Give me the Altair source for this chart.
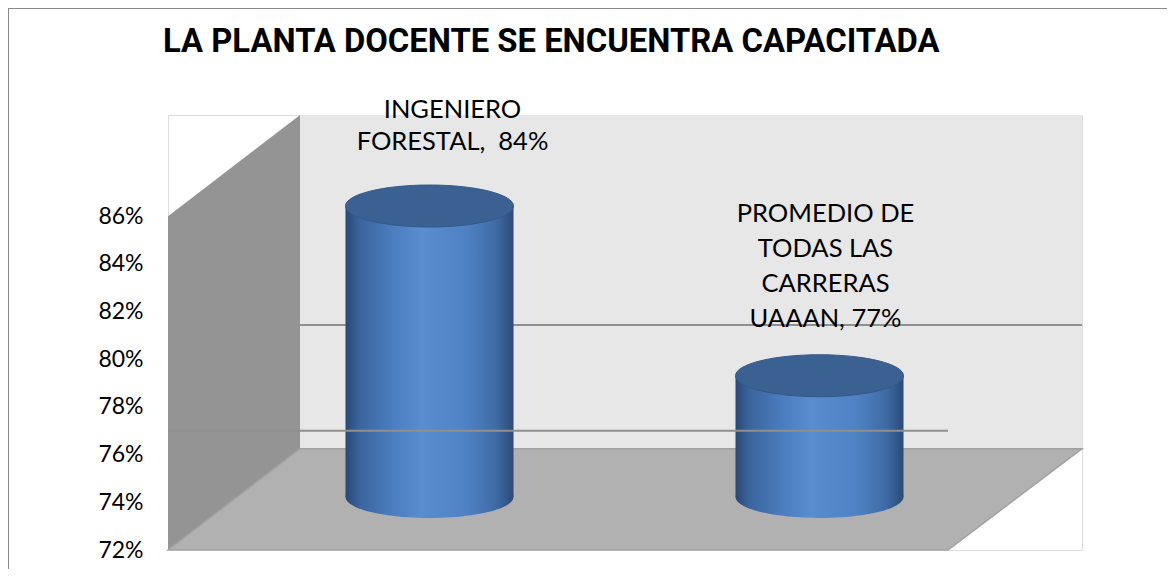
import altair as alt
import pandas as pd

# ---- data ----
categories = ["INGENIERO FORESTAL", "PROMEDIO DE TODAS LAS CARRERAS UAAAN"]
values = [0.84, 0.77]
label_lines = [["INGENIERO", "FORESTAL, \u00a084%"],
               ["PROMEDIO DE", "TODAS LAS", "CARRERAS", "UAAAN, 77%"]]
average_value = 0.77
tick_values = [0.72, 0.74, 0.76, 0.78, 0.80, 0.82, 0.84, 0.86]
title_text = "LA PLANTA DOCENTE SE ENCUENTRA CAPACITADA"

# ---- 3D frame geometry (in scale units) ----
W, H = 914, 435
X_MAX = 914          # x units across the plot
FLOOR_W = 780        # front edge length of the floor
DEPTH_X = 132        # horizontal depth offset
Y_MIN, Y_TOP = 0.72, 0.86
DY = 0.0425          # vertical depth offset in front-scale units
FRONT_DOMAIN = [0.72, 0.9025]
MID_DOMAIN = [0.69814, 0.87753]
BACK_DOMAIN = [0.67779, 0.85607]

bars = pd.DataFrame({
    "cat": categories,
    "value": values,
    "base": [Y_MIN] * len(values),
    "label": ["\n".join(l) for l in label_lines],
})

fx = alt.Scale(domain=[0, X_MAX])
fy = alt.Scale(domain=FRONT_DOMAIN)
band_x = alt.Scale(domain=categories, range=[66.5, 846.5], paddingInner=0.5692, paddingOuter=0.2846)
mid_y = alt.Scale(domain=MID_DOMAIN)
back_y = alt.Scale(domain=BACK_DOMAIN)

back_wall = alt.Chart(pd.DataFrame({
    "x": [DEPTH_X, X_MAX], "y": [Y_MIN + DY] * 2, "y2": [FRONT_DOMAIN[1]] * 2
})).mark_area(color="#e7e7e7", opacity=1).encode(
    x=alt.X("x:Q", scale=fx, axis=None),
    y=alt.Y("y:Q", scale=fy, axis=alt.Axis(
        values=tick_values, format=".0%", domain=False, ticks=False, grid=False,
        labelFont="Lato", labelFontSize=23, labelColor="#000000", labelPadding=25,
        title=None)),
    y2="y2:Q",
)

left_wall = alt.Chart(pd.DataFrame({
    "x": [0, DEPTH_X], "y": [Y_MIN, Y_MIN + DY], "y2": [Y_TOP, Y_TOP + DY]
})).mark_area(color="#949494", opacity=1).encode(
    x=alt.X("x:Q", scale=fx, axis=None),
    y=alt.Y("y:Q", scale=fy, axis=None),
    y2="y2:Q",
)

floor = alt.Chart(pd.DataFrame({
    "x": [0, DEPTH_X, FLOOR_W, X_MAX],
    "y": [Y_MIN, Y_MIN + DY, Y_MIN + DY, Y_MIN + DY],
    "y2": [Y_MIN, Y_MIN, Y_MIN, Y_MIN + DY],
})).mark_area(color="#b1b1b1", opacity=1, stroke="#a2a2a2", strokeWidth=1.5).encode(
    x=alt.X("x:Q", scale=fx, axis=None),
    y=alt.Y("y:Q", scale=fy, axis=None),
    y2="y2:Q",
)

back_rule = alt.Chart(pd.DataFrame({"x": [DEPTH_X], "x2": [X_MAX], "y": [average_value]})).mark_rule(
    color="#8f8f8f", strokeWidth=2
).encode(
    x=alt.X("x:Q", scale=fx, axis=None), x2="x2:Q",
    y=alt.Y("y:Q", scale=back_y, axis=None),
)

side_grad = alt.Gradient(
    gradient="linear", x1=0, x2=1, y1=0, y2=0,
    stops=[
        alt.GradientStop(color="#2a4874", offset=0),
        alt.GradientStop(color="#3a649c", offset=0.08),
        alt.GradientStop(color="#4b7dbf", offset=0.28),
        alt.GradientStop(color="#598dd0", offset=0.45),
        alt.GradientStop(color="#4f82c4", offset=0.72),
        alt.GradientStop(color="#3e6aa4", offset=0.9),
        alt.GradientStop(color="#2c4a76", offset=1),
    ],
)

BANDWIDTH = 168
ellipse = "M-1,0A1,0.25,0,1,1,1,0A1,0.25,0,1,1,-1,0Z"

bottom_cap = alt.Chart(bars).mark_point(
    shape=ellipse, size=BANDWIDTH ** 2, filled=True, fill=side_grad, opacity=1, strokeWidth=0
).encode(
    x=alt.X("cat:N", scale=band_x, axis=None),
    y=alt.Y("base:Q", scale=mid_y, axis=None),
)

cyl = alt.Chart(bars).mark_bar(fill=side_grad, opacity=1).encode(
    x=alt.X("cat:N", scale=band_x, axis=None),
    y=alt.Y("value:Q", scale=mid_y, axis=None),
    y2="base:Q",
)

top_cap = alt.Chart(bars).mark_point(
    shape=ellipse, size=BANDWIDTH ** 2, filled=True, fill="#3a6191", opacity=1,
    stroke="#34588a", strokeWidth=1
).encode(
    x=alt.X("cat:N", scale=band_x, axis=None),
    y=alt.Y("value:Q", scale=mid_y, axis=None),
)

front_rule = alt.Chart(pd.DataFrame({"x": [0], "x2": [FLOOR_W], "y": [average_value]})).mark_rule(
    color="#8f8f8f", strokeWidth=2
).encode(
    x=alt.X("x:Q", scale=fx, axis=None), x2="x2:Q",
    y=alt.Y("y:Q", scale=fy, axis=None),
)

# one text layer per data label (line spacing and offset of each label block)
label_styles = [dict(dx=23, dy=-36, lineHeight=32), dict(dx=6, dy=-103, lineHeight=35)]
label_layers = []
for i, st in enumerate(label_styles):
    label_layers.append(
        alt.Chart(bars.iloc[[i]]).mark_text(
            font="Lato", fontSize=25.5, color="#000000", lineBreak="\n",
            baseline="alphabetic", align="center", **st
        ).encode(
            x=alt.X("cat:N", scale=band_x, axis=None),
            y=alt.Y("value:Q", scale=back_y, axis=None),
            text="label:N",
        )
    )

title = alt.Chart(pd.DataFrame({"t": [title_text]})).mark_text(
    font="Roboto", fontSize=32.8, fontWeight="bold", color="#000000",
    align="left", baseline="alphabetic"
).encode(x=alt.value(-5), y=alt.value(-63), text="t:N")

border = alt.Chart(pd.DataFrame({"a": [0]})).mark_rect(
    fill=None, fillOpacity=0, stroke="#8a8a8a", strokeWidth=2
).encode(
    x=alt.value(-160), x2=alt.value(1100), y=alt.value(-107), y2=alt.value(700),
)

chart = alt.layer(
    back_wall, left_wall, floor, back_rule, bottom_cap, cyl, top_cap, front_rule,
    *label_layers, title, border
).resolve_scale(x="independent", y="independent").properties(
    width=W, height=H,
    autosize=alt.AutoSizeParams(type="none"),
    padding={"left": 160, "top": 107, "right": 85, "bottom": 19},
).configure_view(stroke=None).configure(background="#ffffff")

chart.save("out.html", embed_options={"renderer": "svg", "actions": False})
